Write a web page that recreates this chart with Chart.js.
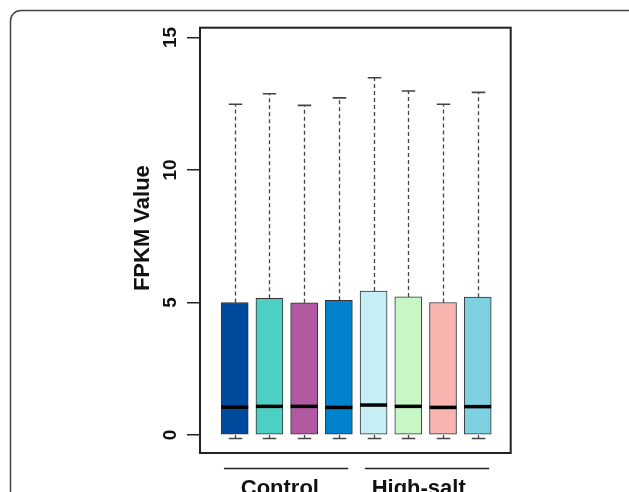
<!DOCTYPE html>
<html><head><meta charset="utf-8">
<script src="https://cdn.jsdelivr.net/npm/chart.js@4"></script>
<style>html,body{margin:0;padding:0;background:#fff}canvas{display:block}</style>
</head><body>
<canvas id="c" width="629" height="492"></canvas>
<script>
// ---- data ----
const samples = ['Control-1','Control-2','Control-3','Control-4','High-salt-1','High-salt-2','High-salt-3','High-salt-4'];
const positions = [1, 2, 3, 4, 5, 6, 7, 8];
const q1 = [0, 0, 0, 0, 0, 0, 0, 0];
const q3 = [5.00, 5.16, 4.99, 5.08, 5.43, 5.21, 5.00, 5.20];
const medians = [1.05, 1.08, 1.08, 1.04, 1.13, 1.08, 1.04, 1.07];
const whiskerHigh = [12.48, 12.88, 12.44, 12.72, 13.48, 12.98, 12.48, 12.93];
const whiskerLow = [-0.13, -0.13, -0.13, -0.13, -0.13, -0.13, -0.13, -0.13];
const boxColors = ['#004a9e', '#4ecfc4', '#b15aa3', '#0082cc', '#c5eff5', '#c8f7c5', '#f8b5b0', '#7fd0e0'];
const yTicks = [0, 5, 10, 15];
const groups = ['Control', 'High-salt'];
const groupStart = [0.69, 4.75];
const groupEnd = [4.27, 8.33];
const groupLabelPos = [2.3, 6.3];

const FONT = '"Liberation Sans", Arial, Helvetica, sans-serif';
const BOX_W = 27;

const boxPlugin = {
  id: 'boxparts',
  beforeDraw(chart) {
    const ctx = chart.ctx;
    ctx.save();
    ctx.strokeStyle = '#444';
    ctx.lineWidth = 1.5;
    ctx.beginPath();
    ctx.moveTo(10.5, 492);
    ctx.lineTo(10.5, 21);
    ctx.arcTo(10.5, 10.5, 21, 10.5, 10.5);
    ctx.lineTo(629, 10.5);
    ctx.stroke();
    ctx.restore();
  },
  beforeDatasetsDraw(chart) {
    const ctx = chart.ctx, xs = chart.scales.x, ys = chart.scales.y;
    ctx.save();
    ctx.strokeStyle = '#444';
    for (let i = 0; i < positions.length; i++) {
      const x = Math.round(xs.getPixelForValue(positions[i])) + 0.5;
      ctx.lineWidth = 1.3;
      ctx.setLineDash([4, 3]);
      ctx.beginPath();
      ctx.moveTo(x, ys.getPixelForValue(q3[i]));
      ctx.lineTo(x, ys.getPixelForValue(whiskerHigh[i]));
      ctx.moveTo(x, ys.getPixelForValue(q1[i]));
      ctx.lineTo(x, ys.getPixelForValue(whiskerLow[i]));
      ctx.stroke();
      ctx.setLineDash([]);
      ctx.lineWidth = 1.6;
      ctx.beginPath();
      const yh = ys.getPixelForValue(whiskerHigh[i]);
      const yl = ys.getPixelForValue(whiskerLow[i]);
      ctx.moveTo(x - BOX_W / 4, yh); ctx.lineTo(x + BOX_W / 4, yh);
      ctx.moveTo(x - BOX_W / 4, yl); ctx.lineTo(x + BOX_W / 4, yl);
      ctx.stroke();
    }
    ctx.restore();
  },
  afterDatasetsDraw(chart) {
    const ctx = chart.ctx, xs = chart.scales.x, ys = chart.scales.y;
    ctx.save();
    ctx.strokeStyle = '#000';
    ctx.lineWidth = 3.5;
    for (let i = 0; i < positions.length; i++) {
      const x = xs.getPixelForValue(positions[i]);
      const y = ys.getPixelForValue(medians[i]);
      ctx.beginPath();
      ctx.moveTo(x - BOX_W / 2, y); ctx.lineTo(x + BOX_W / 2, y);
      ctx.stroke();
    }
    ctx.restore();
  },
  afterDraw(chart) {
    const ctx = chart.ctx, xs = chart.scales.x, a = chart.chartArea;
    ctx.save();
    ctx.strokeStyle = '#222';
    ctx.lineWidth = 2;
    ctx.strokeRect(a.left, a.top, a.right - a.left, a.bottom - a.top);
    ctx.lineWidth = 1.5;
    ctx.fillStyle = '#111';
    ctx.font = 'bold 22px ' + FONT;
    ctx.textAlign = 'center';
    ctx.textBaseline = 'alphabetic';
    for (let g = 0; g < groups.length; g++) {
      ctx.beginPath();
      ctx.moveTo(xs.getPixelForValue(groupStart[g]), a.bottom + 15.5);
      ctx.lineTo(xs.getPixelForValue(groupEnd[g]), a.bottom + 15.5);
      ctx.stroke();
      ctx.fillText(groups[g], xs.getPixelForValue(groupLabelPos[g]), a.bottom + 42);
    }
    ctx.restore();
  }
};

new Chart(document.getElementById('c'), {
  type: 'bar',
  data: {
    labels: samples,
    datasets: [{
      data: positions.map((p, i) => ({ x: p, y: [q1[i], q3[i]] })),
      backgroundColor: boxColors,
      borderColor: '#333',
      borderWidth: 1,
      borderSkipped: false,
      barThickness: BOX_W
    }]
  },
  options: {
    responsive: false,
    devicePixelRatio: 1,
    animation: false,
    layout: { padding: { left: 130, top: 27.7, right: 118.3, bottom: 0 } },
    plugins: { legend: { display: false }, tooltip: { enabled: false } },
    scales: {
      x: {
        type: 'linear', min: 0, max: 8.95, offset: false,
        grid: { display: false }, border: { display: false },
        ticks: { display: false },
        afterFit(s) { s.height = 39; }
      },
      y: {
        min: -0.68, max: 15.37,
        border: { display: false },
        grid: { drawOnChartArea: false, drawTicks: true, tickLength: 13, color: '#222', lineWidth: 1.5 },
        ticks: {
          color: '#111', font: { family: FONT, size: 19, weight: 'bold' },
          minRotation: 90, maxRotation: 90, crossAlign: 'center', padding: 6
        },
        afterBuildTicks(s) { s.ticks = yTicks.map(v => ({ value: v })); },
        title: {
          display: true, text: '    FPKM Value', color: '#111',
          font: { family: FONT, size: 22, weight: 'bold' }, padding: 0
        },
        afterFit(s) { s.width = 70; }
      }
    }
  },
  plugins: [boxPlugin]
});
</script>
</body></html>
